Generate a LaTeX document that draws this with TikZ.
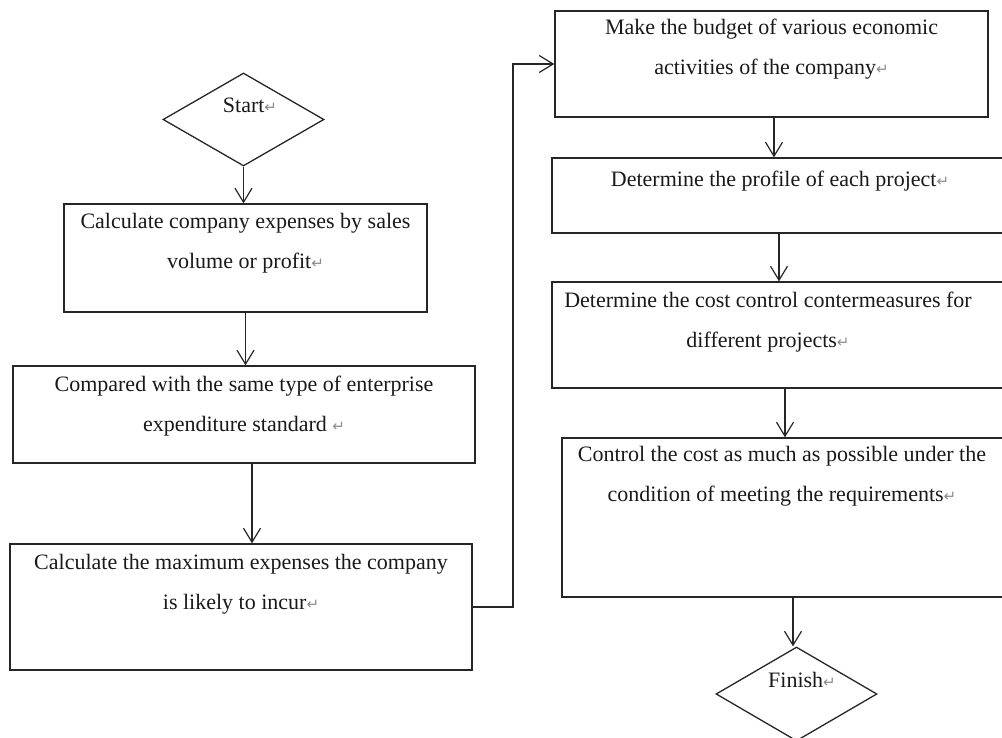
\documentclass[tikz,border=0pt]{standalone}
\usepackage{fontspec}
\setmainfont{Liberation Serif}
\newfontfamily\symf{DejaVu Sans}
\usetikzlibrary{arrows.meta,shapes.geometric}
\newcommand\pmark{{\symf\fontsize{15}{15}\selectfont\color{black!45}↵}}
\tikzset{
  box/.style={draw=black!85, line width=1.3pt, inner sep=0pt, rectangle},
  dia/.style={draw=black!85, line width=1.3pt, inner sep=0pt, diamond},
  txt/.style={inner sep=0pt, align=center, font=\fontsize{22}{40}\selectfont, text=black!90},
  arr/.style={draw=black!85, line width=1.2pt, -{Straight Barb[length=14pt,width=17pt,line width=1.2pt]}},
  conn/.style={draw=black!85, line width=1.2pt}
}
\begin{document}
\begin{tikzpicture}[x=1pt,y=-1pt]
\useasboundingbox (0,0) rectangle (1002,738);
\clip (0,0) rectangle (1002,738);
% shapes
\node[dia, minimum width=161pt, minimum height=93pt] (start) at (243.5,119.5) {};
\node[box, minimum width=363pt, minimum height=108pt] (b1) at (245.5,258) {};
\node[box, minimum width=462pt, minimum height=97pt] (b2) at (244,414.5) {};
\node[box, minimum width=462pt, minimum height=126pt] (b3) at (241,607) {};
\node[box, minimum width=433pt, minimum height=106pt] (b4) at (771.5,64) {};
\node[box, minimum width=458pt, minimum height=75pt] (b5) at (781,195.5) {};
\node[box, minimum width=458pt, minimum height=106pt] (b6) at (781,335) {};
\node[box, minimum width=458pt, minimum height=159pt] (b7) at (791,517.5) {};
\node[dia, minimum width=161pt, minimum height=94pt] (finish) at (796.5,694) {};
% texts
\node[txt, anchor=base] (tstart) at (250,113) {Start\pmark};
\node[txt, anchor=base] (tfinish) at (802,687) {Finish\pmark};
\node[txt, anchor=north] (t1) at ([yshift=3pt]b1.north) {\strut Calculate company expenses by sales\\ volume or profit\pmark};
\node[txt, anchor=north] (t2) at ([yshift=2pt]b2.north) {\strut Compared with the same type of enterprise\\ expenditure standard \pmark};
\node[txt, anchor=north] (t3) at ([yshift=2pt]b3.north) {\strut Calculate the maximum expenses the company\\ is likely to incur\pmark};
\node[txt, anchor=north] (t4) at ([yshift=4pt]b4.north) {\strut Make the budget of various economic\\ activities of the company\pmark};
\node[txt, anchor=north] (t5) at ([yshift=0pt]780,158) {\strut Determine the profile of each project\pmark};
\node[txt, anchor=north] (t6) at ([yshift=3pt]768,282) {\strut Determine the cost control contermeasures for\\ different projects\pmark};
\node[txt, anchor=north] (t7) at ([yshift=5pt]782,438) {\strut Control the cost as much as possible under the\\ condition of meeting the requirements\pmark};
% connectors
\draw[arr] (start.south) -- (start.south |- b1.north);
\draw[arr] (b1.south) -- (b1.south |- b2.north);
\draw[arr] ([xshift=8pt]b2.south) -- ([xshift=8pt]b2.south |- b3.north);
\coordinate (bend) at (513,607);
\draw[arr] (b3.east) -- (bend) |- (b4.west);
\draw[arr] ([xshift=2.5pt]b4.south) -- ([xshift=2.5pt]b4.south |- b5.north);
\draw[arr] ([xshift=-2pt]b5.south) -- ([xshift=-2pt]b5.south |- b6.north);
\draw[arr] ([xshift=4pt]b6.south) -- ([xshift=4pt]b6.south |- b7.north);
\draw[arr] ([xshift=2pt]b7.south) -- ([xshift=2pt]b7.south |- finish.north);
\end{tikzpicture}
\end{document}
